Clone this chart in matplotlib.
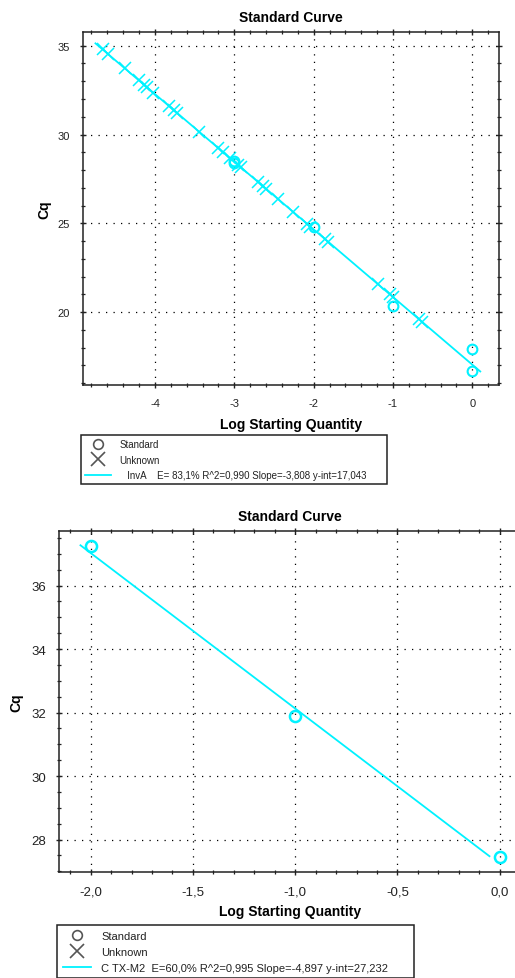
import matplotlib
matplotlib.use("Agg")
import matplotlib.pyplot as plt
from matplotlib.lines import Line2D
from matplotlib.ticker import MultipleLocator, FuncFormatter

plt.rcParams['font.family'] = ['Liberation Sans', 'DejaVu Sans']

CYAN = '#00F2FF'

# ---- top curve (InvA) ----
inva_std_x = [-3, -3, -2, -1, 0, 0]
inva_std_cq = [28.5, 28.4, 24.8, 20.35, 17.9, 16.7]
inva_unk_x = [-4.66, -4.59, -4.38, -4.20, -4.14, -4.10, -4.02, -3.82, -3.76, -3.72,
              -3.44, -3.20, -3.14, -3.06, -2.95, -2.92, -2.70, -2.64, -2.60, -2.45,
              -2.26, -2.08, -2.04, -1.86, -1.82, -1.19, -1.04, -1.00, -0.67, -0.63]
inva_unk_cq = [34.79, 34.52, 33.72, 33.04, 32.81, 32.66, 32.35, 31.59, 31.36, 31.21,
               30.14, 29.23, 29.00, 28.70, 28.28, 28.16, 27.32, 27.10, 26.94, 26.37,
               25.65, 24.96, 24.81, 24.13, 23.97, 21.57, 21.00, 20.85, 19.59, 19.44]
inva_slope = -3.808
inva_yint = 17.043
inva_fit_x = [-4.75, 0.10]
inva_label = "   InvA    E= 83,1% R^2=0,990 Slope=-3,808 y-int=17,043"

# ---- bottom curve (CTX-M2) ----
ctx_std_x = [-2, -1, 0]
ctx_std_cq = [37.26, 31.88, 27.46]
ctx_slope = -4.897
ctx_yint = 27.232
ctx_fit_x = [-2.05, -0.05]
ctx_label = "C TX-M2  E=60,0% R^2=0,995 Slope=-4,897 y-int=27,232"

fig = plt.figure(figsize=(5.15, 9.79), dpi=100)


def style_axes(ax, fs):
    for s in ax.spines.values():
        s.set_color('#222222')
        s.set_linewidth(1.1)
    ax.tick_params(which='both', direction='inout', top=True, right=True,
                   colors='#222222', labelsize=fs)
    ax.tick_params(which='major', length=5, width=1.0, pad=7)
    ax.tick_params(which='minor', length=3.5, width=0.9)
    ax.grid(True, which='major', color='black', linestyle=(0, (1, 5)), linewidth=0.9)
    ax.set_axisbelow(True)


def fit_line(ax, xs, slope, yint):
    ys = [slope * x + yint for x in xs]
    ax.plot(xs, ys, color=CYAN, lw=1.3, zorder=3)


# top chart
ax1 = fig.add_axes([83 / 515, 1 - 386 / 979, 416 / 515, 353 / 979])
fit_line(ax1, inva_fit_x, inva_slope, inva_yint)
ax1.plot(inva_unk_x, inva_unk_cq, ls='none', marker='x', ms=9, mew=1.1, color=CYAN, zorder=4)
ax1.plot(inva_std_x, inva_std_cq, ls='none', marker='o', ms=7, mfc='none', mec=CYAN, mew=1.5, zorder=5)
ax1.set_xlim(-4.907, 0.336)
ax1.set_ylim(15.9, 35.77)
ax1.xaxis.set_major_locator(MultipleLocator(1))
ax1.xaxis.set_minor_locator(MultipleLocator(0.2))
ax1.yaxis.set_major_locator(MultipleLocator(5))
ax1.yaxis.set_minor_locator(MultipleLocator(1))
ax1.xaxis.set_major_formatter(FuncFormatter(lambda v, p: "%d" % round(v)))
style_axes(ax1, 8)
ax1.set_title("Standard Curve", fontsize=10, fontweight='bold', pad=8)
ax1.set_xlabel("Log Starting Quantity", fontsize=10, fontweight='bold', labelpad=6)
ax1.set_ylabel("Cq", fontsize=10, fontweight='bold', labelpad=4)

# bottom chart
ax2 = fig.add_axes([59.3 / 515, 1 - 873.3 / 979, 460.7 / 515, 341.6 / 979])
fit_line(ax2, ctx_fit_x, ctx_slope, ctx_yint)
ax2.plot(ctx_std_x, ctx_std_cq, ls='none', marker='o', ms=8, mfc='none', mec=CYAN, mew=1.8, zorder=5)
ax2.set_xlim(-2.1535, 0.0993)
ax2.set_ylim(26.97, 37.73)
ax2.xaxis.set_major_locator(MultipleLocator(0.5))
ax2.xaxis.set_minor_locator(MultipleLocator(0.1))
ax2.yaxis.set_major_locator(MultipleLocator(2))
ax2.yaxis.set_minor_locator(MultipleLocator(0.5))
ax2.xaxis.set_major_formatter(FuncFormatter(lambda v, p: ("%.1f" % v).replace('.', ',')))
style_axes(ax2, 9.5)
ax2.set_title("Standard Curve", fontsize=10, fontweight='bold', pad=8)
ax2.set_xlabel("Log Starting Quantity", fontsize=10, fontweight='bold', labelpad=5)
ax2.set_ylabel("Cq", fontsize=10, fontweight='bold', labelpad=6)


def legend_handles():
    return [Line2D([], [], ls='none', marker='o', ms=7, mfc='none', mec='#555555', mew=1.2),
            Line2D([], [], ls='none', marker='x', ms=10, mew=1.2, color='#555555'),
            Line2D([], [], color=CYAN, lw=1.3)]


def add_legend(bbox, label, fs, spacing, bpad):
    leg = fig.legend(legend_handles(), ["Standard", "Unknown", label],
                     loc='upper left', bbox_to_anchor=bbox, mode='expand',
                     fontsize=fs, frameon=True, fancybox=False, framealpha=1,
                     edgecolor='#222222', borderpad=bpad, handlelength=2.6,
                     handletextpad=0.9, labelspacing=spacing, borderaxespad=0)
    leg.get_frame().set_linewidth(1.1)
    for t in leg.get_texts():
        t.set_color('#222222')


add_legend((81 / 515, 1 - 487 / 979, 306 / 515, 51 / 979), inva_label, 7, 0.55, 0.45)
add_legend((57 / 515, 0.0, 357 / 515, 1 - 926 / 979), ctx_label, 8, 0.55, 0.5)

fig.savefig("out.png", dpi=100)
